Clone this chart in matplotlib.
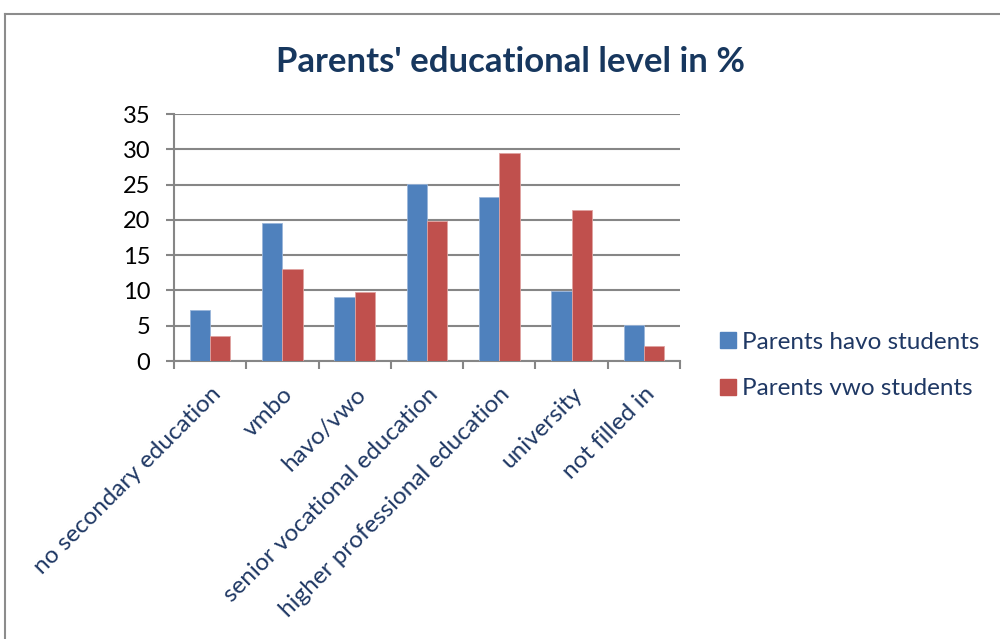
import matplotlib
matplotlib.use("Agg")
import matplotlib.pyplot as plt
from matplotlib.lines import Line2D
import numpy as np

categories = ["no secondary education", "vmbo", "havo/vwo",
              "senior vocational education", "higher professional education",
              "university", "not filled in"]
havo = [7.3, 19.6, 9.1, 25.1, 23.3, 9.9, 5.1]
vwo = [3.6, 13.1, 9.8, 19.9, 29.5, 21.4, 2.2]
series_names = ["Parents havo students", "Parents vwo students"]
yticks = [0, 5, 10, 15, 20, 25, 30, 35]

plt.rcParams['font.family'] = ['Lato', 'DejaVu Sans']

navy = "#1F3864"
fig = plt.figure(figsize=(10, 6.39), dpi=100)
ax = fig.add_axes([0.174, 0.435, 0.506, 0.3865])

x = np.arange(len(categories))
w = 0.28
blue = "#4F81BD"
red = "#C0504D"
ax.bar(x - w / 2, havo, width=w, color=blue, edgecolor="#9BB6DA", linewidth=0.6, zorder=3)
ax.bar(x + w / 2, vwo, width=w, color=red, edgecolor="#E0A3A1", linewidth=0.6, zorder=3)

ax.set_xlim(-0.5, len(categories) - 0.5)
ax.set_ylim(0, 35)
ax.set_yticks(yticks)
ax.set_yticklabels([str(t) for t in yticks], fontsize=17)
ax.yaxis.grid(True, color="#868686", linewidth=1.5, zorder=0)
ax.set_axisbelow(True)

for s in ["top", "right"]:
    ax.spines[s].set_visible(False)
for s in ["left", "bottom"]:
    ax.spines[s].set_color("#868686")
    ax.spines[s].set_linewidth(1.5)

ax.tick_params(axis="y", length=6, width=1.5, color="#868686", pad=11)
ax.set_xticks(np.arange(len(categories) + 1) - 0.5, minor=True)
ax.set_xticks(x)
ax.set_xticklabels(categories, rotation=45, ha="right", rotation_mode="anchor",
                   fontsize=17.5, color=navy)
ax.tick_params(axis="x", which="major", length=0, pad=16)
ax.tick_params(axis="x", which="minor", length=6, width=1.5, color="#868686")

fig.text(0.51, 0.903, "Parents' educational level in %", ha="center", va="center",
         fontsize=25, fontweight="bold", color="#17375E")

handles = [Line2D([], [], marker="s", linestyle="none", markersize=12, color=c)
           for c in (blue, red)]
fig.legend(handles, series_names, loc="center left", bbox_to_anchor=(0.695, 0.428),
           frameon=False, fontsize=17.5, labelspacing=1.05, handletextpad=0.15,
           handlelength=0.9, labelcolor=navy)

# outer chart frame
fig.add_artist(Line2D([0.005, 0.005], [0.0, 0.978], color="#8C8C8C", linewidth=1.5,
                      transform=fig.transFigure))
fig.add_artist(Line2D([0.005, 1.0], [0.978, 0.978], color="#8C8C8C", linewidth=1.5,
                      transform=fig.transFigure))

fig.savefig("out.png", dpi=100)
